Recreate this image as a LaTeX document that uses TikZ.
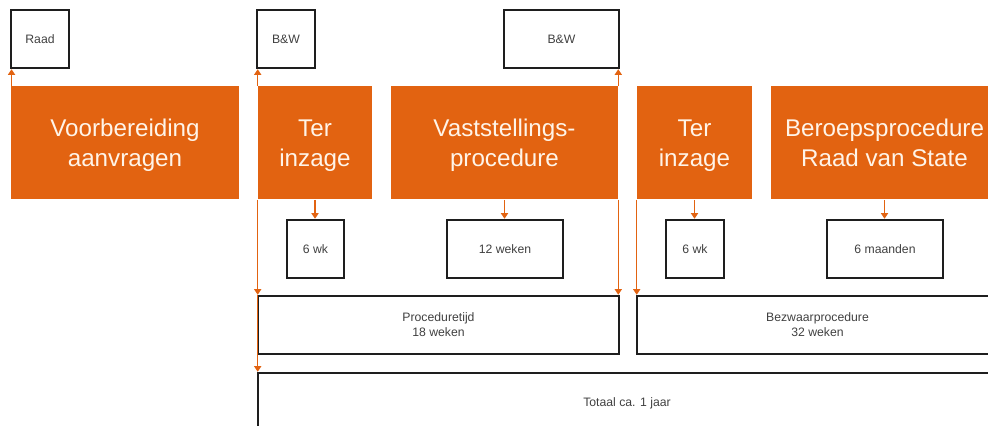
\documentclass[tikz,border=0pt]{standalone}
\usepackage{fontspec}
\setmainfont{Liberation Sans}
\usetikzlibrary{
  arrows.meta,
  positioning,
}
\definecolor{myorange}{RGB}{226,99,17}
\definecolor{myblack}{RGB}{30,30,30}
\definecolor{mytext}{RGB}{64,64,64}
\definecolor{mycream}{RGB}{255,244,232}
\def\mypx{0.025cm}
\newcommand{\phasesize}{\fontsize{17.2}{21.5}\selectfont}
\newcommand{\termsize}{\fontsize{8.7}{10.7}\selectfont}
\tikzset{
  x=\mypx,
  y=-\mypx,
  >={Triangle[length=4pt,width=5pt]},
  my phase/.style={
    fill=myorange,
    draw=none,
    text=mycream,
    font=\phasesize,
    align=center,
    inner sep=0mm,
    text depth=-3.5pt, % text sits a bit low in its box
    minimum height=113*\mypx
  },
  my term/.style={
    draw=myblack,
    line width=1.7pt,
    text=mytext,
    font=\termsize,
    align=center,
    inner sep=0mm,
    minimum height=58*\mypx
  },
  my flow/.style={
    draw=myorange,
    line width=1pt,
    ->
  }
}

\begin{document}
\begin{tikzpicture}
\useasboundingbox (0,0) rectangle (988,426);
\clip (0,0) rectangle (988,426);
% Phases
\node[my phase,minimum width=228*\mypx] (voorb)   at (125,143)   {Voorbereiding\\aanvragen};
\node[my phase,minimum width=114*\mypx] (inzage1) at (315,143)   {Ter\\inzage};
\node[my phase,minimum width=227*\mypx] (vast)    at (504.5,143) {Vaststellings-\\procedure};
\node[my phase,minimum width=115*\mypx] (inzage2) at (694.5,143) {Ter\\inzage};
\node[my phase,minimum width=227*\mypx] (beroep)  at (884.5,143) {Beroepsprocedure\\Raad van State};
% Bodies on top
\node[my term,minimum width=58*\mypx]  (raad) at (40,39)    {Raad};
\node[my term,minimum width=58*\mypx]  (bw1)  at (286,39)   {B\&W};
\node[my term,minimum width=115*\mypx] (bw2)  at (561.5,39) {B\&W};
% Durations
\node[my term,minimum width=57*\mypx]  (wk1)    at (315.5,249) {6 wk};
\node[my term,minimum width=116*\mypx] (weken)  at (505,249)   {12 weken};
\node[my term,minimum width=58*\mypx]  (wk2)    at (695,249)   {6 wk};
\node[my term,minimum width=116*\mypx] (maand)  at (885,249)   {6 maanden};
% Totals
\node[my term,minimum width=361*\mypx] (proc)   at (438.5,325) {Proceduretijd\\18 weken};
\node[my term,minimum width=361*\mypx] (bezw)   at (817.5,325) {Bezwaarprocedure\\32 weken};
\node[my term,minimum width=738*\mypx,minimum height=60*\mypx] (totaal) at (627,403) {Totaal ca. 1 jaar};
% Arrows up
\draw[my flow] ([xshift=0.6pt]voorb.north west) -- ([xshift=0.6pt]voorb.north west |- raad.south);
\draw[my flow] (inzage1.north west) -- (inzage1.north west |- bw1.south);
\draw[my flow] (vast.north east) -- (vast.north east |- bw2.south);
% Arrows down
\foreach \from/\to in {inzage1/wk1, vast/weken, inzage2/wk2, beroep/maand}
  \draw[my flow] (\from.south) -- (\from.south |- \to.north);
\draw[my flow] (inzage1.south west) -- (inzage1.south west |- proc.north);
\draw[my flow] (inzage1.south west |- proc.north) -- (inzage1.south west |- totaal.north);
\draw[my flow] (vast.south east) -- (vast.south east |- proc.north);
\draw[my flow] (inzage2.south west) -- (inzage2.south west |- bezw.north);
\end{tikzpicture}
\end{document}
